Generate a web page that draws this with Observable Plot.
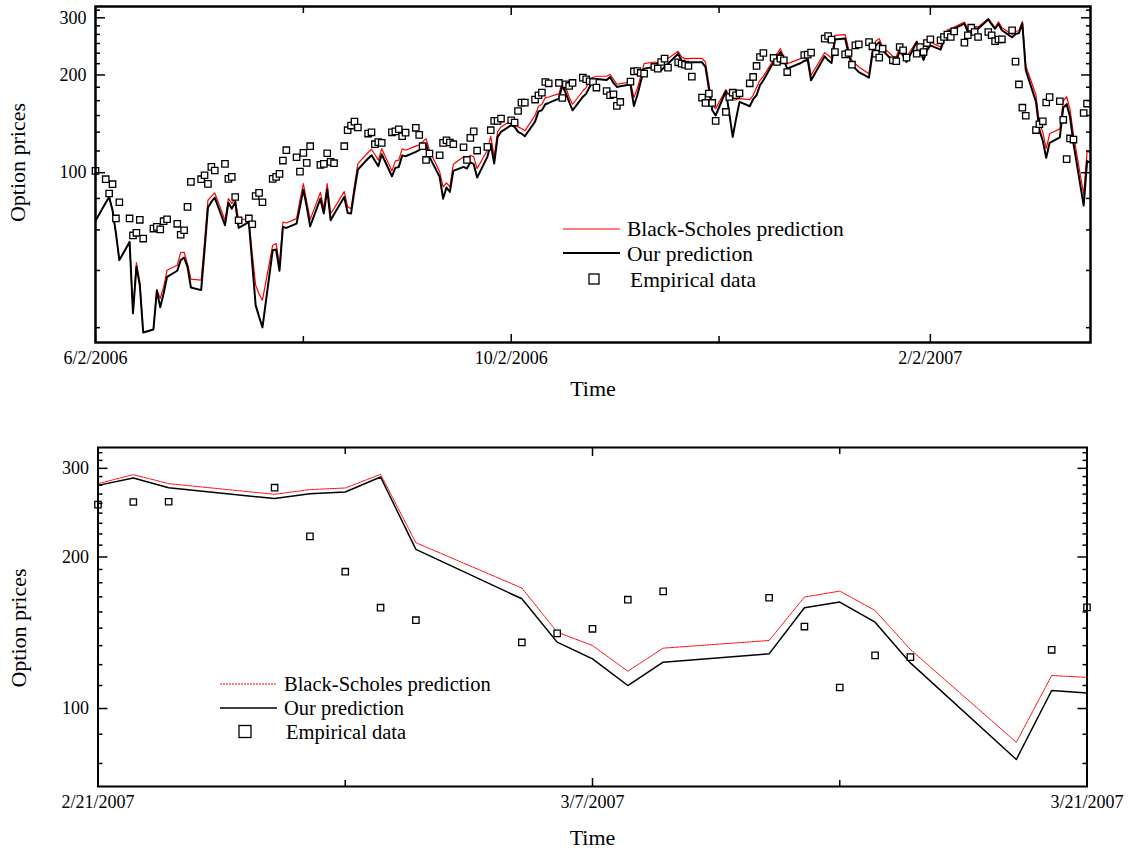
<!DOCTYPE html>
<html>
<head>
<meta charset="utf-8">
<script src="https://cdn.jsdelivr.net/npm/d3@7"></script>
<script src="https://cdn.jsdelivr.net/npm/@observablehq/plot@0.6"></script>
<style>
  html, body { margin: 0; padding: 0; background: #fff; }
  svg { display: block; }
</style>
</head>
<body>
<div id="top"></div>
<div id="bottom"></div>
<script>
// ---------------- DATA: top panel (6/2/2006 - 3/21/2007, daily) ----------------
const topMonths = ["2006-06","2006-07","2006-08","2006-09","2006-10","2006-11","2006-12","2007-01","2007-02","2007-03"];
const topMonthDays = [
  [2,5,6,7,8,9,12,13,14,15,16,19,20,21,22,23,26,27,28,29,30],
  [3,4,5,6,7,10,11,12,13,14,17,18,19,20,21,24,25,26,27,28,31],
  [1,2,3,4,7,8,9,10,11,14,15,16,17,18,21,22,23,24,25,28,29,30,31],
  [1,4,5,6,7,8,11,12,13,14,15,18,19,20,21,22,25,26,27,28,29],
  [2,3,4,5,6,9,10,11,12,13,16,17,18,19,20,23,24,25,26,27,30,31],
  [1,2,3,6,7,8,9,10,13,14,15,16,17,20,21,22,23,24,27,28,29,30],
  [1,4,5,6,7,8,11,12,13,14,15,18,19,20,21,22,26,27,28,29],
  [2,3,4,5,8,9,10,11,12,15,16,17,18,19,22,23,24,25,26,29,30,31],
  [1,2,5,6,7,8,9,12,13,14,15,16,19,20,21,22,23,26,27,28],
  [1,2,5,6,7,8,9,12,13,14,15,16,19,20,21]
];
const topOur = [
  [71.1,80.8,84.2,76.6,65.0,53.8,61.2,36.9,51.3,45.1,32.2,32.9,43.3,38.5,42.5,47.8,49.9,53.8,54.8,51.3,44.3],
  [43.5,57.7,78.1,81.3,83.8,68.9,80.8,77.5,81.3,67.6,70.5,52.5,39.1,36.0,33.4,57.7,58.0,49.9,68.1,67.6,69.7],
  [78.5,88.7,78.5,68.4,83.2,74.9,88.7,71.4,74.5,84.2,75.2,74.9,88.3,102.3,110.6,113.2,108.8,104.7,114.0,97.5,103.5,104.2,112.9],
  [112.4,115.9,117.3,120.1,122.7,111.9,97.1,83.2,90.0,87.3,101.3,104.2,103.0,107.7,106.2,96.6,111.9,122.7,106.7,128.9,133.6],
  [140.1,138.4,133.6,132.0,129.5,143.7,154.5,155.7,162.5,164.0,169.2,185.6,176.0,165.2,155.7,171.1,175.2,183.7,192.6,194.4,193.0,197.2],
  [189.0,183.7,184.6,186.9,160.6,173.2,190.3,209.2,211.7,210.2,206.7,211.7,216.7,232.6,220.9,218.3,218.8,218.8,218.8,211.7,181.6,155.7],
  [150.2,178.5,152.1,128.9,146.8,165.2,160.2,168.4,173.2,185.9,192.6,219.3,227.2,235.3,221.9,209.2,217.7,220.9,223.0,192.6],
  [228.3,221.9,217.7,257.0,258.8,232.6,214.0,209.2,204.2,196.3,232.6,246.7,252.5,238.2,220.9,219.3,238.2,229.9,219.3,252.5,238.2,222.4],
  [238.2,246.7,239.3,255.7,271.3,274.5,277.7,287.7,271.3,281.0,279.0,277.7,296.6,286.3,277.5,287.1,274.6,261.2,267.2,269.2],
  [288.4,207.1,165.2,135.5,125.5,111.1,123.6,128.4,158.6,162.7,148.4,123.2,79.2,108.6,107.4]
];
const topBS = [
  [71.1,80.8,84.2,76.6,65.0,53.8,61.2,36.9,52.9,46.1,32.2,32.9,43.7,41.0,44.5,50.1,51.9,56.8,56.9,52.5,47.0],
  [46.7,61.3,82.3,84.6,86.7,71.4,83.2,80.4,83.2,71.4,72.2,56.4,45.0,42.3,40.5,59.8,60.5,51.9,70.5,70.0,72.2],
  [82.3,92.6,81.3,71.7,86.9,77.5,92.6,74.9,77.5,87.5,78.5,77.5,91.5,106.7,115.4,118.1,113.8,109.3,118.6,101.3,108.8,109.3,118.4],
  [117.3,120.7,121.6,124.5,127.3,117.3,100.6,90.4,93.0,90.4,106.2,111.9,110.1,113.2,111.9,103.0,117.3,129.5,111.9,133.6,138.4],
  [144.8,143.9,138.4,136.8,134.6,150.2,160.1,162.5,170.3,171.1,175.2,190.3,182.9,171.1,162.5,178.5,182.9,192.2,196.3,198.2,198.2,201.0],
  [193.9,187.3,188.1,190.3,170.3,181.6,198.2,216.7,219.3,218.3,216.7,220.9,224.6,236.6,227.2,224.6,224.6,225.0,225.0,219.3,188.1,161.5],
  [157.5,180.3,173.2,167.2,168.0,169.2,168.0,173.2,182.9,192.6,198.2,223.0,232.6,241.0,227.2,216.7,224.6,227.2,229.9,199.6],
  [234.3,229.9,225.5,264.9,266.2,241.0,221.9,216.7,211.7,201.9,241.0,254.4,258.8,243.9,228.3,227.2,243.9,235.3,227.2,254.4,243.9,229.9],
  [242.7,252.5,243.9,260.6,275.7,277.7,281.0,291.1,277.7,284.3,282.3,281.0,298.0,289.0,279.7,291.5,279.7,266.4,272.2,274.2],
  [291.9,213.5,173.5,141.8,133.4,118.6,131.8,136.5,166.5,171.1,156.6,131.0,85.7,116.3,115.3]
];
const topEmp = [
  [101.3,95.5,86.3,92.2,72.3,81.1,72.3,64.1,65.3,71.6,62.7,67.3,68.1,66.9,70.9,71.9,69.6,64.4,66.5,78.5,93.7],
  [95.5,98.2,92.4,104.2,101.6,106.5,95.7,97.1,84.2,71.4,72.3,69.4,84.8,86.7,81.1,95.7,97.1,99.2,109.0,117.3,111.6],
  [100.8,115.1,107.2,120.7,105.7,106.5,114.8,108.0,107.0,120.7,135.2,139.7,143.7,137.8,132.0,133.2,122.4,124.2,123.6,133.2,134.1,136.1,129.5],
  [132.9,137.5,130.8,120.7,109.5,114.6,113.2,123.6,125.9,123.9,122.4,119.8,109.5,128.0,134.1,117.0,120.1,135.2,144.4,144.4,146.8],
  [145.1,142.7,154.9,164.4,164.4,168.0,173.2,176.5,190.3,188.5,189.0,169.9,187.2,185.0,189.0,196.3,194.0,191.3,190.3,182.9,178.5,173.2],
  [174.4,160.6,165.2,190.8,205.1,205.6,202.9,201.9,211.7,209.2,219.3,224.6,210.7,218.8,216.7,215.1,213.2,197.7,170.3,164.0,175.2,164.0],
  [144.4,153.9,171.1,176.4,173.2,175.6,188.5,197.2,213.2,227.2,233.7,225.7,219.3,224.6,221.9,204.2,null,230.4,231.0,234.3],
  [258.8,263.6,257.0,235.3,231.5,233.7,215.1,246.7,248.5,252.5,245.1,232.6,226.2,241.0,221.9,220.4,243.9,238.2,226.2,232.6,243.9,235.3],
  [250.8,257.6,255.7,261.8,266.2,261.8,272.5,251.5,265.0,279.7,271.3,261.8,271.3,265.0,254.1,257.2,257.5,274.6,219.8,187.0],
  [158.6,149.8,135.3,141.0,144.0,164.5,170.9,166.0,145.5,110.1,127.5,126.5,152.7,163.3,null]
];
const topDomainX = ["2006-06-02","2007-03-21"];
const topDomainY = [30, 325];
const topXMajor = ["2006-06-02","2006-10-02","2007-02-02"];
const topXMinor = ["2006-08-02","2006-12-02"];
const topYMajor = [100, 200, 300];
const topYMinor = [33.33,50,66.67,83.33,116.67,133.33,150,166.67,183.33,216.67,233.33,250,266.67,283.33,316.67];

// ---------------- DATA: bottom panel (2/21/2007 - 3/21/2007) ----------------
const botDates = ["2007-02-21","2007-02-22","2007-02-23","2007-02-26","2007-02-27","2007-02-28","2007-03-01","2007-03-02",
  "2007-03-05","2007-03-06","2007-03-07","2007-03-08","2007-03-09","2007-03-12","2007-03-13","2007-03-14","2007-03-15",
  "2007-03-16","2007-03-19","2007-03-20","2007-03-21"];
const botOur = [277.5,287.1,274.6,261.2,267.2,269.2,288.4,207.1,165.2,135.5,125.5,111.1,123.6,128.4,158.6,162.7,148.4,123.2,79.2,108.6,107.4];
const botBS  = [279.7,291.5,279.7,266.4,272.2,274.2,291.9,213.5,173.5,141.8,133.4,118.6,131.8,136.5,166.5,171.1,156.6,131.0,85.7,116.3,115.3];
const botEmp = [254.1,257.2,257.5,274.6,219.8,187.0,158.6,149.8,135.3,141.0,144.0,164.5,170.9,166.0,145.5,110.1,127.5,126.5,null,130.8,158.8];
const botDomainX = ["2007-02-21","2007-03-21"];
const botDomainY = [70, 330];
const botXMajor = ["2007-02-21","2007-03-07","2007-03-21"];
const botXMinor = ["2007-02-28","2007-03-14"];
const botYMajor = [100, 200, 300];
const botYMinor = [77.78,88.89,111.11,122.22,133.33,144.44,155.56,166.67,177.78,188.89,211.11,222.22,233.33,244.44,255.56,266.67,277.78,288.89,311.11,322.22];

const legendLabels = ["Black-Scholes prediction", "Our prediction", "Empirical data"];
const xLabel = "Time";
const yLabel = "Option prices";

// ---------------- build tables ----------------
const D = s => new Date(s);
const topDates = topMonths.flatMap((m, i) => topMonthDays[i].map(d => `${m}-${String(d).padStart(2, "0")}`));
const ourFlat = topOur.flat(), bsFlat = topBS.flat(), empFlat = topEmp.flat();
const topData = topDates.map((s, i) => ({date: D(s), our: ourFlat[i], bs: bsFlat[i], emp: empFlat[i]}));
const botData = botDates.map((s, i) => ({date: D(s), our: botOur[i], bs: botBS[i], emp: botEmp[i]}));

const FONT = '"Liberation Serif","Times New Roman",Times,serif';
const fmtDate = d3.utcFormat("%-m/%-d/%Y");

function axesMarks(xMajor, xMinor, yMajor, yMinor, frameW) {
  const xm = xMajor.map(D), xn = xMinor.map(D);
  const tickStyle = {label: null, tickFormat: () => "", strokeWidth: 1.5};
  return [
    Plot.frame({stroke: "black", strokeWidth: frameW}),
    // inward ticks
    Plot.axisX(xm, {...tickStyle, anchor: "bottom", tickSize: -8}),
    Plot.axisX(xm, {...tickStyle, anchor: "top", tickSize: -8}),
    Plot.axisX(xn, {...tickStyle, anchor: "bottom", tickSize: -6}),
    Plot.axisX(xn, {...tickStyle, anchor: "top", tickSize: -6}),
    Plot.axisY(yMajor, {...tickStyle, anchor: "left", tickSize: -10}),
    Plot.axisY(yMajor, {...tickStyle, anchor: "right", tickSize: -10}),
    Plot.axisY(yMinor, {...tickStyle, anchor: "left", tickSize: -5}),
    Plot.axisY(yMinor, {...tickStyle, anchor: "right", tickSize: -5}),
    // labels
    Plot.axisX(xm, {anchor: "bottom", label: null, tickSize: 0, tickPadding: 9, fontSize: 18, tickFormat: fmtDate}),
    Plot.axisY(yMajor, {anchor: "left", label: null, tickSize: 0, tickPadding: 9, fontSize: 18, tickFormat: d => String(d)})
  ];
}

// ---------------- top chart ----------------
const topChart = Plot.plot({
  width: 1130, height: 410,
  marginLeft: 95, marginRight: 40, marginTop: 6, marginBottom: 68,
  style: {fontFamily: FONT, background: "white", color: "black", overflow: "visible"},
  x: {type: "utc", domain: topDomainX.map(D)},
  y: {type: "log", domain: topDomainY},
  marks: [
    Plot.line(topData, {x: "date", y: "bs", stroke: "#ff0000", strokeWidth: 1.2, clip: true}),
    Plot.line(topData, {x: "date", y: "our", stroke: "black", strokeWidth: 2, clip: true}),
    Plot.dot(topData.filter(d => d.emp != null), {x: "date", y: "emp", symbol: "square", r: 3.6, stroke: "black", strokeWidth: 1.3, fill: "white"}),
    ...axesMarks(topXMajor, topXMinor, topYMajor, topYMinor, 2.5),
    Plot.text([xLabel], {text: d => d, frameAnchor: "bottom", dy: 53, fontSize: 22}),
    Plot.text([yLabel], {text: d => d, frameAnchor: "left", textAnchor: "middle", dx: -78, dy: -12, rotate: -90, fontSize: 22})
  ]
});

// ---------------- bottom chart ----------------
const botChart = Plot.plot({
  width: 1130, height: 441,
  marginLeft: 97.5, marginRight: 43.5, marginTop: 37, marginBottom: 65,
  style: {fontFamily: FONT, background: "white", color: "black", overflow: "visible"},
  x: {type: "utc", domain: botDomainX.map(D)},
  y: {type: "log", domain: botDomainY},
  marks: [
    Plot.line(botData, {x: "date", y: "bs", stroke: "#ff0000", strokeWidth: 1, strokeDasharray: "1.5,1", clip: true}),
    Plot.line(botData, {x: "date", y: "our", stroke: "black", strokeWidth: 1.5, clip: true}),
    Plot.dot(botData.filter(d => d.emp != null), {x: "date", y: "emp", symbol: "square", r: 3.6, stroke: "black", strokeWidth: 1.3, fill: "white"}),
    ...axesMarks(botXMajor, botXMinor, botYMajor, botYMinor, 2),
    Plot.text([xLabel], {text: d => d, frameAnchor: "bottom", dy: 58, fontSize: 22}),
    Plot.text([yLabel], {text: d => d, frameAnchor: "left", textAnchor: "middle", dx: -79, dy: 11, rotate: -90, fontSize: 22})
  ]
});

// ---------------- legends ----------------
function addLegend(svgEl, o) {
  const g = d3.select(svgEl).append("g").attr("font-family", FONT).attr("font-size", o.fs).attr("text-anchor", "start");
  g.append("line").attr("x1", o.lx1).attr("x2", o.lx2).attr("y1", o.ly[0]).attr("y2", o.ly[0])
    .attr("stroke", "#ff0000").attr("stroke-width", o.redW).attr("stroke-dasharray", o.redDash);
  g.append("line").attr("x1", o.lx1).attr("x2", o.lx2).attr("y1", o.ly[1]).attr("y2", o.ly[1])
    .attr("stroke", "black").attr("stroke-width", o.blackW);
  g.append("rect").attr("x", o.sx - o.ss / 2).attr("y", o.y[2] - o.ss / 2).attr("width", o.ss).attr("height", o.ss)
    .attr("fill", "white").attr("stroke", "black").attr("stroke-width", 1.3);
  legendLabels.forEach((t, i) => {
    g.append("text").attr("x", i === 2 ? o.tx2 : o.tx).attr("y", o.y[i]).attr("dy", "0.35em")
      .attr("text-anchor", "start").attr("fill", "black").text(t);
  });
}
addLegend(topChart, {fs: 21.5, lx1: 563, lx2: 620, tx: 627, tx2: 630, y: [228.5, 253, 279], ly: [229, 253], sx: 594, ss: 10, redW: 1.2, redDash: null, blackW: 2});
addLegend(botChart, {fs: 20.5, lx1: 220, lx2: 277, tx: 284, tx2: 286, y: [273.5, 297.5, 321.5], ly: [274, 298], sx: 245, ss: 12, redW: 1.2, redDash: "2,1", blackW: 1.5});

document.getElementById("top").appendChild(topChart);
document.getElementById("bottom").appendChild(botChart);
</script>
</body>
</html>
